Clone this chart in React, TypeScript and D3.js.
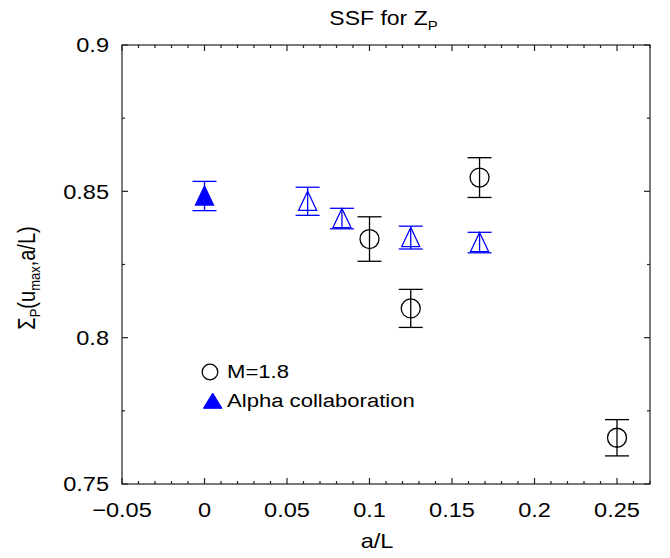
import React from "react";
import * as d3 from "d3";

const m18X = [0.1, 0.125, 0.1667, 0.25];
const m18Y = [0.8337, 0.81, 0.8547, 0.7658];
const m18Err = [0.0076, 0.0065, 0.0068, 0.0062];

const alphaX = [0, 0.0625, 0.0833, 0.125, 0.1667];
const alphaY = [0.8484, 0.8466, 0.8407, 0.8342, 0.8325];
const alphaErr = [0.005, 0.0048, 0.0035, 0.0039, 0.0035];
const alphaFilled = [true, false, false, false, false];

const xMajor = [-0.05, 0, 0.05, 0.1, 0.15, 0.2, 0.25];
const xMajorLabels = ["\u22120.05", "0", "0.05", "0.1", "0.15", "0.2", "0.25"];
const yMajor = [0.75, 0.8, 0.85, 0.9];
const yMajorLabels = ["0.75", "0.8", "0.85", "0.9"];

const legendLabels = ["M=1.8", "Alpha collaboration"];

const W = 670;
const H = 558;
const L = 122, R = 650, T = 45, B = 484;
const FONT = "'Liberation Sans', Arial, Helvetica, sans-serif";
const BLUE = "#0000ff";
const SX = 1.15; // horizontal stretch of the text, as in the reference

function Txt(props: { x: number; y: number; size: number; anchor?: string; rotate?: number; children: React.ReactNode }) {
  const { x, y, size, anchor = "start", rotate = 0, children } = props;
  return (
    <g transform={`translate(${x},${y}) scale(${SX},1) rotate(${rotate})`}>
      <text x={0} y={0} fontSize={size} textAnchor={anchor} fill="#000">
        {children}
      </text>
    </g>
  );
}

export default function App() {
  const x = d3.scaleLinear().domain([-0.05, 0.27]).range([L, R]);
  const y = d3.scaleLinear().domain([0.75, 0.9]).range([B, T]);

  const xMinor = d3.range(-5, 28).map((i) => i / 100).filter((v) => !xMajor.some((m) => Math.abs(m - v) < 1e-9));
  const yMinor = [0.775, 0.825, 0.875];

  const axisColor = "#222";
  const cap = 12;

  const tri = (cx: number, cy: number, hw: number, up: number, down: number) =>
    `M${cx},${cy - up}L${cx + hw},${cy + down}L${cx - hw},${cy + down}Z`;

  return (
    <svg width={W} height={H} style={{ position: "absolute", left: 0, top: 0, background: "#fff" }} fontFamily={FONT}>
      <rect x={0} y={0} width={W} height={H} fill="#fff" />
      {/* title */}
      <Txt x={383.5} y={25} size={20} anchor="middle">
        SSF for Z<tspan fontSize={13} dy={5}>P</tspan>
      </Txt>

      {/* frame */}
      <rect x={L} y={T} width={R - L} height={B - T} fill="none" stroke={axisColor} strokeWidth={1.2} />

      {/* x ticks */}
      {xMajor.map((v) => (
        <g key={"xm" + v}>
          <line x1={x(v)} x2={x(v)} y1={B} y2={B - 6} stroke={axisColor} strokeWidth={1.2} />
          <line x1={x(v)} x2={x(v)} y1={T} y2={T + 6} stroke={axisColor} strokeWidth={1.2} />
        </g>
      ))}
      {xMinor.map((v) => (
        <g key={"xn" + v}>
          <line x1={x(v)} x2={x(v)} y1={B} y2={B - 3} stroke={axisColor} strokeWidth={1.2} />
          <line x1={x(v)} x2={x(v)} y1={T} y2={T + 3} stroke={axisColor} strokeWidth={1.2} />
        </g>
      ))}
      {xMajor.map((v, i) => (
        <Txt key={"xl" + v} x={x(v)} y={516.5} size={20.5} anchor="middle">
          {xMajorLabels[i]}
        </Txt>
      ))}

      {/* y ticks */}
      {yMajor.map((v) => (
        <g key={"ym" + v}>
          <line x1={L} x2={L + 6} y1={y(v)} y2={y(v)} stroke={axisColor} strokeWidth={1.2} />
          <line x1={R} x2={R - 6} y1={y(v)} y2={y(v)} stroke={axisColor} strokeWidth={1.2} />
        </g>
      ))}
      {yMinor.map((v) => (
        <g key={"yn" + v}>
          <line x1={L} x2={L + 3} y1={y(v)} y2={y(v)} stroke={axisColor} strokeWidth={1.2} />
          <line x1={R} x2={R - 3} y1={y(v)} y2={y(v)} stroke={axisColor} strokeWidth={1.2} />
        </g>
      ))}
      {yMajor.map((v, i) => (
        <Txt key={"yl" + v} x={109} y={y(v) + 7.3} size={20.5} anchor="end">
          {yMajorLabels[i]}
        </Txt>
      ))}

      {/* axis labels */}
      <Txt x={377} y={548} size={20.5} anchor="middle">a/L</Txt>
      <Txt x={35} y={278} size={20} anchor="middle" rotate={-90}>
        Σ<tspan fontSize={13} dy={4}>P</tspan>
        <tspan dy={-4}>(u</tspan>
        <tspan fontSize={13} dy={4}>max</tspan>
        <tspan dy={-4}>,a/L)</tspan>
      </Txt>

      {/* alpha series */}
      {alphaX.map((v, i) => {
        const cx = x(v);
        const cy = y(alphaY[i]);
        const y1 = y(alphaY[i] + alphaErr[i]);
        const y2 = y(alphaY[i] - alphaErr[i]);
        return (
          <g key={"a" + i} stroke={BLUE} strokeWidth={1.3}>
            <line x1={cx} x2={cx} y1={y1} y2={y2} />
            <line x1={cx - cap} x2={cx + cap} y1={y1} y2={y1} />
            <line x1={cx - cap} x2={cx + cap} y1={y2} y2={y2} />
            <path d={tri(cx, cy, 9, 10, 9)} fill={alphaFilled[i] ? BLUE : "none"} />
          </g>
        );
      })}

      {/* M=1.8 series */}
      {m18X.map((v, i) => {
        const cx = x(v);
        const cy = y(m18Y[i]);
        const y1 = y(m18Y[i] + m18Err[i]);
        const y2 = y(m18Y[i] - m18Err[i]);
        return (
          <g key={"m" + i} stroke="#000" strokeWidth={1.3}>
            <line x1={cx} x2={cx} y1={y1} y2={y2} />
            <line x1={cx - cap} x2={cx + cap} y1={y1} y2={y1} />
            <line x1={cx - cap} x2={cx + cap} y1={y2} y2={y2} />
            <circle cx={cx} cy={cy} r={9.5} fill="none" />
          </g>
        );
      })}

      {/* legend */}
      <circle cx={210} cy={372} r={7.8} fill="none" stroke="#000" strokeWidth={1.3} />
      <Txt x={227} y={378} size={19.2}>{legendLabels[0]}</Txt>
      <path d={tri(212.7, 401, 9.3, 8, 7.3)} fill={BLUE} stroke={BLUE} strokeWidth={1} />
      <Txt x={227} y={407} size={19.2}>{legendLabels[1]}</Txt>
    </svg>
  );
}
